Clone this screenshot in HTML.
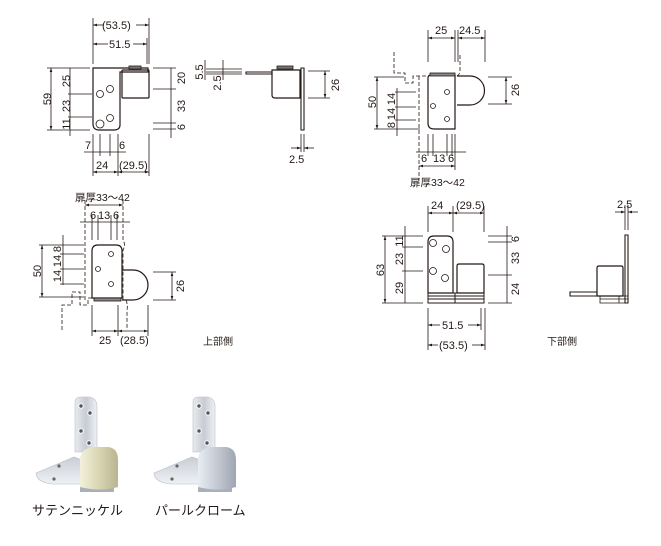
<!DOCTYPE html>
<html><head><meta charset="utf-8"><style>
html,body{margin:0;padding:0;background:#fff;}
svg{display:block;}
text{font-family:"Liberation Sans","Noto Sans CJK JP",sans-serif;fill:#231815;}
</style></head><body>
<svg width="661" height="546" viewBox="0 0 661 546" xmlns="http://www.w3.org/2000/svg">
<defs>
<marker id="a" viewBox="0 0 6 6" refX="6" refY="3" markerWidth="5" markerHeight="5" orient="auto-start-reverse"><path d="M0,1 L6,3 L0,5 z" fill="#231815"/></marker>
<linearGradient id="pl" x1="0" x2="1"><stop offset="0" stop-color="#e8ecf0"/><stop offset=".5" stop-color="#c7ccd3"/><stop offset="1" stop-color="#eef1f4"/></linearGradient>
<linearGradient id="pl2" x1="0" y1="0" x2="0" y2="1"><stop offset="0" stop-color="#c9ced6"/><stop offset="1" stop-color="#eef1f4"/></linearGradient>
<linearGradient id="gn" x1="0" x2="1"><stop offset="0" stop-color="#f3f1dc"/><stop offset=".5" stop-color="#d9d5b3"/><stop offset="1" stop-color="#b9b590"/></linearGradient>
<linearGradient id="gs" x1="0" x2="1"><stop offset="0" stop-color="#e9edf2"/><stop offset=".5" stop-color="#c4cad3"/><stop offset="1" stop-color="#9ea6b1"/></linearGradient>
</defs>
<g stroke="#231815" fill="none" stroke-width="0.8">
<!-- ===== View 1 top-left ===== -->
<path d="M93,68 H148 V72 H120 V125 Q120,130 114,130 H99 Q93,130 93,124 Z" stroke-width="1.2"/>
<rect x="122" y="70" width="27" height="28" rx="1" stroke-width="1.2"/>
<rect x="129" y="66" width="12" height="3" fill="#777"/>
<circle cx="100" cy="94" r="3.5"/><circle cx="110" cy="89" r="3.5"/><circle cx="100" cy="124" r="4"/><circle cx="110" cy="118" r="3.5"/>
<line x1="93" y1="18" x2="93" y2="64"/><line x1="149" y1="18" x2="149" y2="64"/><line x1="147" y1="38" x2="147" y2="64"/>
<line x1="93" y1="25" x2="104" y2="25" marker-start="url(#a)"/><line x1="136" y1="25" x2="149" y2="25" marker-end="url(#a)"/>
<line x1="93" y1="44" x2="108" y2="44" marker-start="url(#a)"/><line x1="133" y1="44" x2="147" y2="44" marker-end="url(#a)"/>
<line x1="47" y1="68" x2="90" y2="68"/><line x1="47" y1="130" x2="90" y2="130"/><line x1="68" y1="94" x2="92" y2="94"/><line x1="68" y1="117" x2="92" y2="117"/>
<line x1="51" y1="68" x2="51" y2="130" marker-start="url(#a)" marker-end="url(#a)"/>
<line x1="70" y1="68" x2="70" y2="136"/>
<line x1="153" y1="68" x2="176" y2="68"/><line x1="153" y1="89" x2="176" y2="89"/><line x1="153" y1="123" x2="176" y2="123"/><line x1="153" y1="129" x2="176" y2="129"/>
<line x1="171" y1="68" x2="171" y2="138"/>
<line x1="93" y1="134" x2="93" y2="176"/><line x1="100" y1="134" x2="100" y2="156"/><line x1="110" y1="134" x2="110" y2="156"/><line x1="118" y1="134" x2="118" y2="176"/><line x1="149" y1="134" x2="149" y2="176"/>
<line x1="84" y1="152" x2="126" y2="152"/>
<line x1="93" y1="172" x2="118" y2="172" marker-start="url(#a)" marker-end="url(#a)"/><line x1="118" y1="172" x2="149" y2="172" marker-start="url(#a)" marker-end="url(#a)"/>
<!-- side view -->
<path d="M206,69 H242 M206,72 H242 M206,74 H242"/>
<line x1="205" y1="60" x2="205" y2="80"/><line x1="223" y1="60" x2="223" y2="80"/>
<path d="M246,72 H272 V74 H246 Z" stroke-width="1.1"/>
<path d="M272,70 H300 V98 H275 Q272,98 272,95 Z" stroke-width="1.2"/>
<rect x="277" y="66" width="16" height="3" fill="#777"/>
<path d="M301,68 H304 V130 H301 Z" stroke-width="1.1"/>
<line x1="308" y1="71" x2="330" y2="71"/><line x1="308" y1="98" x2="330" y2="98"/>
<line x1="325" y1="71" x2="325" y2="98" marker-start="url(#a)" marker-end="url(#a)"/>
<line x1="301" y1="134" x2="301" y2="152"/><line x1="304" y1="134" x2="304" y2="152"/>
<line x1="291" y1="148" x2="301" y2="148" marker-end="url(#a)"/><line x1="314" y1="148" x2="304" y2="148" marker-end="url(#a)"/>
<!-- ===== View top-right ===== -->
<path d="M394,52 V73 H405 V83 H413 V76 H428" stroke-dasharray="4,2"/>
<path d="M419,76 V180 M460,55 V70 Q460,76 455,76" stroke-dasharray="4,2"/>
<path d="M428,78 Q428,75 431,75 H455 V129 H434 Q428,129 428,123 Z" stroke-width="1.2"/>
<path d="M457,76 H470 A14.5,14.5 0 0 1 470,105 H457" stroke-width="1.2"/>
<rect x="430" y="73" width="25" height="3" fill="#888"/>
<circle cx="447" cy="92" r="2.5"/><circle cx="433" cy="106" r="2.5"/><circle cx="447" cy="119" r="2.5"/>
<line x1="428" y1="30" x2="428" y2="62"/><line x1="455" y1="30" x2="455" y2="62"/><line x1="458" y1="30" x2="458" y2="62"/><line x1="485" y1="30" x2="485" y2="62"/>
<line x1="428" y1="38" x2="455" y2="38" marker-start="url(#a)" marker-end="url(#a)"/><line x1="458" y1="38" x2="485" y2="38" marker-start="url(#a)" marker-end="url(#a)"/>
<line x1="374" y1="77" x2="404" y2="77"/><line x1="374" y1="129" x2="420" y2="129"/>
<line x1="395" y1="92" x2="416" y2="92"/><line x1="395" y1="107" x2="416" y2="107"/><line x1="395" y1="120" x2="416" y2="120"/>
<line x1="377" y1="77" x2="377" y2="129" marker-start="url(#a)" marker-end="url(#a)"/>
<line x1="397" y1="88" x2="397" y2="136"/>
<line x1="488" y1="77" x2="512" y2="77"/><line x1="488" y1="104" x2="512" y2="104"/>
<line x1="506" y1="77" x2="506" y2="104" marker-start="url(#a)" marker-end="url(#a)"/>
<line x1="428" y1="134" x2="428" y2="156"/><line x1="433" y1="134" x2="433" y2="156"/><line x1="447" y1="134" x2="447" y2="156"/><line x1="452" y1="134" x2="452" y2="156"/><line x1="455" y1="134" x2="455" y2="170"/>
<line x1="416" y1="152" x2="466" y2="152"/>
<line x1="419" y1="166" x2="455" y2="166" marker-start="url(#a)" marker-end="url(#a)"/>
<!-- ===== View middle-left ===== -->
<path d="M85,200 V300 M123,200 V240 Q126,245 123,250 V300" stroke-dasharray="4,2"/>
<path d="M62,330 V305 H72 V292 H80 V305 H88 V298 H92" stroke-dasharray="4,2"/>
<path d="M126,300 Q128,305 127,310 V330" stroke-dasharray="4,2"/>
<path d="M92,251 Q92,245 98,245 H116 Q122,245 122,251 V298 H92 Z" stroke-width="1.2"/>
<path d="M122,270 H133 A14,14 0 0 1 133,300 H122" stroke-width="1.2"/>
<rect x="94" y="298" width="27" height="3" fill="#888"/>
<circle cx="111" cy="254" r="2.5"/><circle cx="98" cy="269" r="2.5"/><circle cx="111" cy="284" r="2.5"/>
<line x1="85" y1="205" x2="123" y2="205" marker-start="url(#a)" marker-end="url(#a)"/>
<line x1="80" y1="222" x2="130" y2="222"/>
<line x1="92" y1="215" x2="92" y2="240"/><line x1="98" y1="215" x2="98" y2="240"/><line x1="111" y1="215" x2="111" y2="240"/><line x1="117" y1="215" x2="117" y2="240"/>
<line x1="39" y1="245" x2="84" y2="245"/><line x1="39" y1="297" x2="84" y2="297"/>
<line x1="60" y1="254" x2="84" y2="254"/><line x1="60" y1="269" x2="84" y2="269"/><line x1="60" y1="284" x2="84" y2="284"/>
<line x1="42" y1="245" x2="42" y2="297" marker-start="url(#a)" marker-end="url(#a)"/>
<line x1="63" y1="235" x2="63" y2="285"/>
<line x1="153" y1="272" x2="176" y2="272"/><line x1="153" y1="300" x2="176" y2="300"/>
<line x1="172" y1="272" x2="172" y2="300" marker-start="url(#a)" marker-end="url(#a)"/>
<line x1="92" y1="305" x2="92" y2="336"/><line x1="118" y1="305" x2="118" y2="336"/><line x1="148" y1="305" x2="148" y2="336"/>
<line x1="92" y1="331" x2="118" y2="331" marker-start="url(#a)" marker-end="url(#a)"/><line x1="118" y1="331" x2="148" y2="331" marker-start="url(#a)" marker-end="url(#a)"/>
<!-- ===== View middle-right ===== -->
<path d="M428,242 Q428,236 434,236 H447 Q453,236 453,242 V293 H428 Z" stroke-width="1.2"/>
<circle cx="433" cy="243" r="3.5"/><circle cx="446" cy="249" r="3.5"/><circle cx="433" cy="271" r="3.5"/><circle cx="445" cy="278" r="3.5"/>
<path d="M457,266 Q457,264 459,264 H482 Q484,264 484,266 V293 H457 Z" stroke-width="1.2"/>
<path d="M428,293 H484 V303 H428 Z M428,296 H484 M428,299 H484 M455,293 V303" stroke-width="1"/>
<line x1="428" y1="206" x2="428" y2="232"/><line x1="453" y1="206" x2="453" y2="232"/><line x1="484" y1="206" x2="484" y2="232"/>
<line x1="428" y1="213" x2="453" y2="213" marker-start="url(#a)" marker-end="url(#a)"/><line x1="453" y1="213" x2="484" y2="213" marker-start="url(#a)" marker-end="url(#a)"/>
<line x1="382" y1="236" x2="423" y2="236"/><line x1="382" y1="303" x2="423" y2="303"/><line x1="402" y1="247" x2="423" y2="247"/><line x1="402" y1="271" x2="423" y2="271"/>
<line x1="385" y1="236" x2="385" y2="303" marker-start="url(#a)" marker-end="url(#a)"/>
<line x1="405" y1="226" x2="405" y2="303"/>
<line x1="488" y1="236" x2="512" y2="236"/><line x1="488" y1="242" x2="512" y2="242"/><line x1="488" y1="275" x2="512" y2="275"/><line x1="488" y1="303" x2="512" y2="303"/>
<line x1="507" y1="226" x2="507" y2="303"/>
<line x1="428" y1="308" x2="428" y2="350"/><line x1="481" y1="308" x2="481" y2="330"/><line x1="485" y1="308" x2="485" y2="350"/>
<line x1="428" y1="325" x2="440" y2="325" marker-start="url(#a)"/><line x1="468" y1="325" x2="481" y2="325" marker-end="url(#a)"/>
<line x1="428" y1="345" x2="438" y2="345" marker-start="url(#a)"/><line x1="472" y1="345" x2="485" y2="345" marker-end="url(#a)"/>
<!-- side bottom -->
<path d="M625,235 H628 V303 H625 Z" stroke-width="1.1"/>
<path d="M597,268 Q597,266 599,266 H621 Q623,266 623,268 V296 H597 Z" stroke-width="1.2"/>
<path d="M570,292 H597 V296 H570 Z" stroke-width="1.1"/>
<path d="M600,296 H628 V303 H600 Z M600,299 H628 M619,296 V303"/>
<line x1="625" y1="205" x2="625" y2="230"/><line x1="628" y1="205" x2="628" y2="230"/>
<line x1="615" y1="212" x2="625" y2="212" marker-end="url(#a)"/><line x1="638" y1="212" x2="628" y2="212" marker-end="url(#a)"/>
</g>
<!-- dimension texts -->
<g font-size="11">
<text x="102" y="29">(53.5)</text><text x="109" y="48">51.5</text>
<text x="85" y="149">7</text><text x="119" y="149">6</text>
<text x="96" y="169">24</text><text x="119" y="169">(29.5)</text>
<text x="289" y="163">2.5</text>
<text x="435" y="34">25</text><text x="459" y="34">24.5</text>
<text x="421" y="162">6</text><text x="433" y="162">13</text><text x="448" y="162">6</text>
<text x="410" y="186" font-size="10.5">扉厚33～42</text>
<text x="75" y="201" font-size="10.5">扉厚33～42</text>
<text x="90" y="219">6</text><text x="98" y="219">13</text><text x="113" y="219">6</text>
<text x="99" y="344">25</text><text x="120" y="344">(28.5)</text>
<text x="431" y="209">24</text><text x="456" y="209">(29.5)</text>
<text x="442" y="329">51.5</text><text x="439" y="349">(53.5)</text>
<text x="617" y="208">2.5</text>
<text x="203" y="345" font-size="10">上部側</text>
<text x="547" y="345" font-size="10">下部側</text>
</g>
<g font-size="11" text-anchor="middle">
<text transform="translate(47,99) rotate(-90)" dy="4">59</text>
<text transform="translate(66,81) rotate(-90)" dy="4">25</text>
<text transform="translate(66,106) rotate(-90)" dy="4">23</text>
<text transform="translate(66,124) rotate(-90)" dy="4">11</text>
<text transform="translate(181,78) rotate(-90)" dy="4">20</text>
<text transform="translate(181,106) rotate(-90)" dy="4">33</text>
<text transform="translate(181,127) rotate(-90)" dy="4">6</text>
<text transform="translate(199,72) rotate(-90)" dy="4">5.5</text>
<text transform="translate(217,83) rotate(-90)" dy="4">2.5</text>
<text transform="translate(335,85) rotate(-90)" dy="4">26</text>
<text transform="translate(372,102) rotate(-90)" dy="4">50</text>
<text transform="translate(391,99) rotate(-90)" dy="4">14</text>
<text transform="translate(391,114) rotate(-90)" dy="4">14</text>
<text transform="translate(391,125) rotate(-90)" dy="4">8</text>
<text transform="translate(515,90) rotate(-90)" dy="4">26</text>
<text transform="translate(37,271) rotate(-90)" dy="4">50</text>
<text transform="translate(57,249) rotate(-90)" dy="4">8</text>
<text transform="translate(57,261) rotate(-90)" dy="4">14</text>
<text transform="translate(57,276) rotate(-90)" dy="4">14</text>
<text transform="translate(180,286) rotate(-90)" dy="4">26</text>
<text transform="translate(380,270) rotate(-90)" dy="4">63</text>
<text transform="translate(399,241) rotate(-90)" dy="4">11</text>
<text transform="translate(399,259) rotate(-90)" dy="4">23</text>
<text transform="translate(399,288) rotate(-90)" dy="4">29</text>
<text transform="translate(515,239) rotate(-90)" dy="4">6</text>
<text transform="translate(515,258) rotate(-90)" dy="4">33</text>
<text transform="translate(515,289) rotate(-90)" dy="4">24</text>
</g>
<!-- photos -->
<g>
<path d="M36,473 L74,457 L82,460 L82,484 L52,484 Q36,482 36,473 Z" fill="url(#pl2)" stroke="#b8bec6" stroke-width="0.6"/>
<circle cx="59" cy="466" r="1.6" fill="#666"/><circle cx="54" cy="479" r="1.6" fill="#666"/>
<path d="M75,402 Q75,397 81,397 H90 Q97,399 97,406 V452 H75 Z" fill="url(#pl)" stroke="#b8bec6" stroke-width="0.6"/>
<circle cx="81" cy="406" r="2.3" fill="#555" stroke="#f4f6f8" stroke-width="1.2"/><circle cx="90" cy="413" r="2.3" fill="#555" stroke="#f4f6f8" stroke-width="1.2"/><circle cx="81" cy="431" r="2.3" fill="#555" stroke="#f4f6f8" stroke-width="1.2"/><circle cx="89" cy="443" r="2.3" fill="#555" stroke="#f4f6f8" stroke-width="1.2"/>
<rect x="80" y="485" width="34" height="7" fill="#a9b0ba"/>
<path d="M80,458 Q82,447 96,447 H108 Q118,448 118,460 V487 Q100,492 80,487 Z" fill="url(#gn)"/>
<path d="M154,473 L192,457 L200,460 L200,484 L170,484 Q154,482 154,473 Z" fill="url(#pl2)" stroke="#b8bec6" stroke-width="0.6"/>
<circle cx="177" cy="466" r="1.6" fill="#666"/><circle cx="172" cy="479" r="1.6" fill="#666"/>
<path d="M193,402 Q193,397 199,397 H208 Q215,399 215,406 V452 H193 Z" fill="url(#pl)" stroke="#b8bec6" stroke-width="0.6"/>
<circle cx="199" cy="406" r="2.3" fill="#555" stroke="#f4f6f8" stroke-width="1.2"/><circle cx="208" cy="413" r="2.3" fill="#555" stroke="#f4f6f8" stroke-width="1.2"/><circle cx="199" cy="431" r="2.3" fill="#555" stroke="#f4f6f8" stroke-width="1.2"/><circle cx="207" cy="443" r="2.3" fill="#555" stroke="#f4f6f8" stroke-width="1.2"/>
<rect x="198" y="485" width="34" height="7" fill="#a9b0ba"/>
<path d="M198,458 Q200,447 214,447 H226 Q236,448 236,460 V487 Q218,492 198,487 Z" fill="url(#gs)"/>
</g>
<text x="32" y="515" font-size="13">サテンニッケル</text>
<text x="155" y="515" font-size="13">パールクローム</text>
</svg>
</body></html>
